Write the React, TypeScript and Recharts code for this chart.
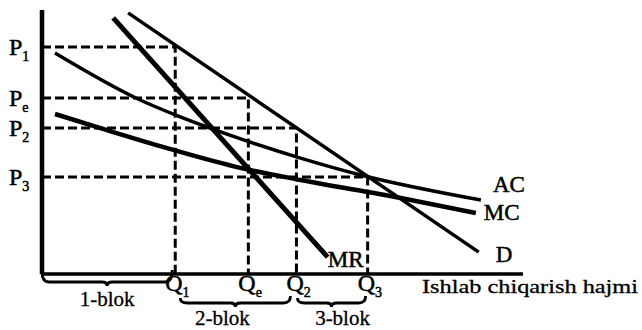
import React from 'react';
import { LineChart, Line, XAxis, YAxis, ReferenceLine } from 'recharts';

// Quantity ticks (Q1, Qe, Q2, Q3) and price ticks (P3, P2, Pe, P1)
const qTickValues = [27.7, 42.9, 52.9, 67.7];
const qTickSubs = ['1', 'e', '2', '3'];
const pTickValues = [36.7, 55.3, 66.7, 86.0];
const pTickSubs = ['3', '2', 'e', '1'];

// Price level reached at each Q tick (for dashed guides), in order Q1, Qe, Q2, Q3
const guideP = [86.0, 66.7, 55.3, 36.7];

// Demand (D)
const demandQ = [17.9, 90.8];
const demandP = [98.9, 8.3];
// Marginal revenue (MR)
const mrQ = [14.8, 59.4];
const mrP = [97.0, 6.4];
// Average cost (AC)
const acQ = [2.7, 20.4, 28.75, 41.9, 53.75, 66.25, 91.25];
const acP = [83.7, 65.9, 59.5, 50.8, 43.9, 37.5, 28.0];
// Marginal cost (MC)
const mcQ = [2.7, 13.5, 27.3, 41.25, 53.75, 74.6, 90.2];
const mcP = [60.6, 54.5, 47.0, 40.2, 35.6, 28.8, 23.1];

// Blocks
const blockLabels = ['1-blok', '2-blok', '3-blok'];
const blockStart = [0, qTickValues[0], qTickValues[2]];
const blockEnd = [qTickValues[0], qTickValues[2], qTickValues[3]];

const FONT = '"Liberation Serif", "Times New Roman", serif';

const toPts = (qs: number[], ps: number[]) => qs.map((q, i) => ({ q, p: ps[i] }));

const demandData = toPts(demandQ, demandP);
const mrData = toPts(mrQ, mrP);
const acData = toPts(acQ, acP);
const mcData = toPts(mcQ, mcP);
const guideData = qTickValues.map((q, i) => [
  { q: 0, p: guideP[i] },
  { q, p: guideP[i] },
  { q, p: 0 },
]);

const textStyle = { stroke: '#000', strokeWidth: 0.5 };

const QTick = (props: any) => {
  const { x, payload } = props;
  const idx = qTickValues.indexOf(payload.value);
  return (
    <text x={x - 10} y={291} fontFamily={FONT} fontSize={24} fill="#000" style={textStyle}>
      Q
      <tspan fontSize={14} dy={6}>{qTickSubs[idx]}</tspan>
    </text>
  );
};

const PTick = (props: any) => {
  const { y, payload } = props;
  const idx = pTickValues.indexOf(payload.value);
  return (
    <text x={9} y={y + 8} fontFamily={FONT} fontSize={24} fill="#000" style={textStyle}>
      P
      <tspan fontSize={14} dy={6}>{pTickSubs[idx]}</tspan>
    </text>
  );
};

const braceCfg = [
  { a: 0, b: -3, top: 272, h: 282, tdx: 0, ty: 306 },
  { a: 5, b: -6, top: 298, h: 303, tdx: -13, ty: 325 },
  { a: 1, b: -2, top: 298, h: 303, tdx: 11, ty: 325 },
];

const makeBrace = (i: number) => (props: any) => {
  const { x1, x2 } = props;
  const c = braceCfg[i];
  const a = x1 + c.a;
  const b = x2 + c.b;
  const m = (a + b) / 2;
  const top = c.top;
  const h = c.h;
  const d = `M ${a} ${top} Q ${a} ${h} ${a + 7} ${h} L ${m - 5} ${h} Q ${m} ${h} ${m} ${h + 4} Q ${m} ${h} ${m + 5} ${h} L ${b - 7} ${h} Q ${b} ${h} ${b} ${top - 2}`;
  return (
    <g>
      <path d={d} fill="none" stroke="#000" strokeWidth={2.8} />
      <text
        x={m + c.tdx}
        y={c.ty}
        textAnchor="middle"
        fontFamily={FONT}
        fontSize={21}
        fill="#000"
        style={{ stroke: '#000', strokeWidth: 0.3 }}
      >
        {blockLabels[i]}
      </text>
    </g>
  );
};

const endLabel = (text: string, last: number, dx: number, dy: number) => (props: any) => {
  if (props.index !== last) return <g />;
  return (
    <text x={props.x + dx} y={props.y + dy} fontFamily={FONT} fontSize={23} fill="#000" style={textStyle}>
      {text}
    </text>
  );
};

export default function App() {
  return (
    <div style={{ position: 'absolute', left: 0, top: 0, width: 642, height: 330, background: '#fff' }}>
      <LineChart width={642} height={330} margin={{ top: 10, right: 119, bottom: 0, left: 0 }}>
        <XAxis
          type="number"
          dataKey="q"
          domain={[0, 100]}
          ticks={qTickValues}
          interval={0}
          tick={QTick}
          tickLine={false}
          axisLine={{ stroke: '#000', strokeWidth: 3.5 }}
          height={56}
          allowDataOverflow
          label={{
            content: () => (
              <text
                x={422}
                y={293}
                fontFamily={FONT}
                fontSize={19}
                textLength={216}
                lengthAdjust="spacingAndGlyphs"
                fill="#000"
                style={{ stroke: '#000', strokeWidth: 0.3 }}
              >
                Ishlab chiqarish hajmi
              </text>
            ),
          }}
        />
        <YAxis
          type="number"
          dataKey="p"
          domain={[0, 100]}
          ticks={pTickValues}
          interval={0}
          tick={PTick}
          tickLine={false}
          axisLine={{ stroke: '#000', strokeWidth: 4.5 }}
          width={42}
          allowDataOverflow
        />
        {guideData.map((d, i) => (
          <Line
            key={'g' + i}
            data={d}
            dataKey="p"
            type="linear"
            stroke="#000"
            strokeWidth={3}
            strokeDasharray="9 4"
            dot={false}
            activeDot={false}
            isAnimationActive={false}
          />
        ))}
        <Line
          data={acData}
          dataKey="p"
          type="monotone"
          stroke="#000"
          strokeWidth={3.5}
          dot={false}
          activeDot={false}
          isAnimationActive={false}
          label={endLabel('AC', acData.length - 1, 12, -8)}
        />
        <Line
          data={mcData}
          dataKey="p"
          type="monotone"
          stroke="#000"
          strokeWidth={4.5}
          dot={false}
          activeDot={false}
          isAnimationActive={false}
          label={endLabel('MC', mcData.length - 1, 8, 7)}
        />
        <Line
          data={demandData}
          dataKey="p"
          type="linear"
          stroke="#000"
          strokeWidth={3.5}
          dot={false}
          activeDot={false}
          isAnimationActive={false}
          label={endLabel('D', demandData.length - 1, 17, 10)}
        />
        <Line
          data={mrData}
          dataKey="p"
          type="linear"
          stroke="#000"
          strokeWidth={5}
          dot={false}
          activeDot={false}
          isAnimationActive={false}
          label={endLabel('MR', mrData.length - 1, 0, 10)}
        />
        {blockLabels.map((_, i) => (
          <ReferenceLine
            key={'b' + i}
            segment={[
              { x: blockStart[i], y: 0 },
              { x: blockEnd[i], y: 0 },
            ]}
            ifOverflow="visible"
            shape={makeBrace(i)}
          />
        ))}
      </LineChart>
    </div>
  );
}
